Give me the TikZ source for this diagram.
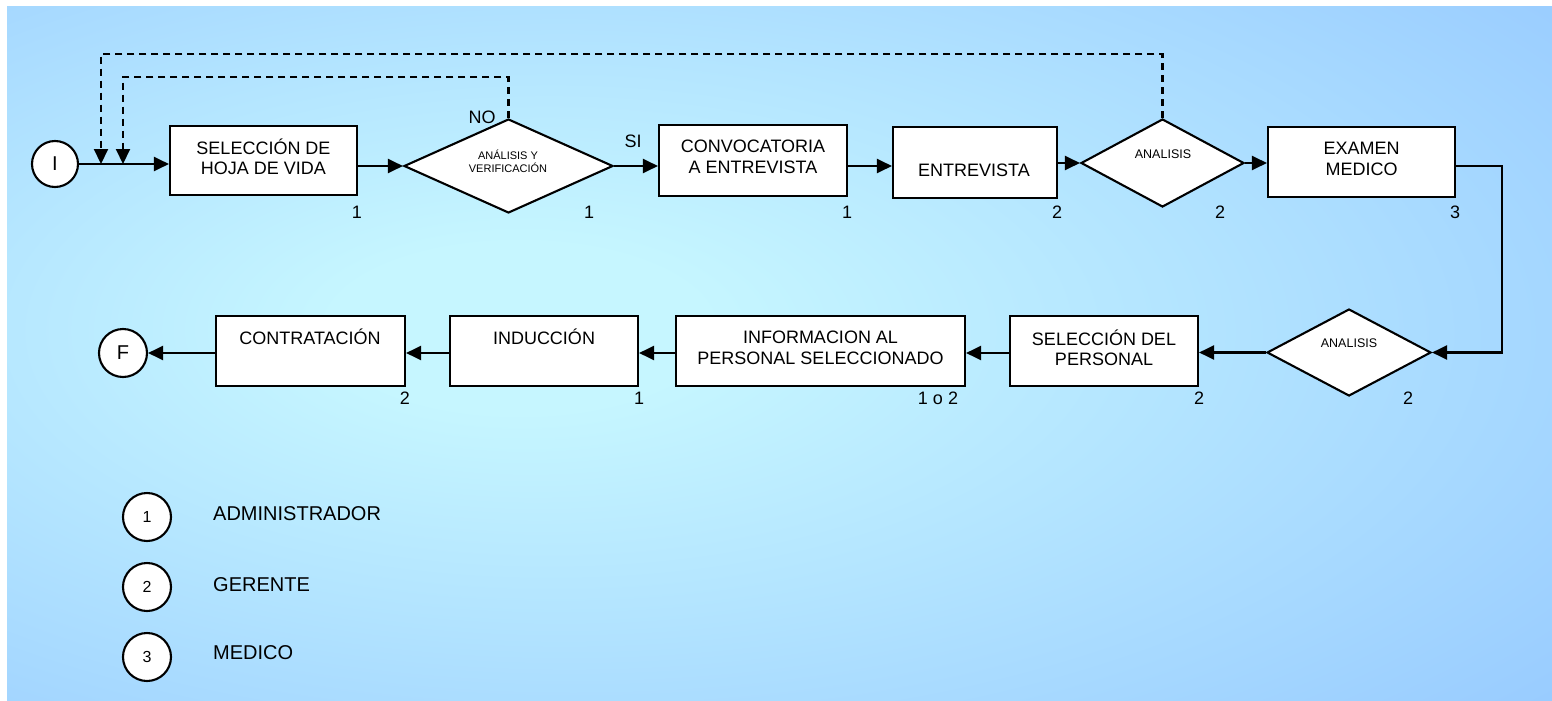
\documentclass[tikz,border=0pt]{standalone}
\usepackage{fontspec}
\setmainfont{Liberation Sans}
\usetikzlibrary{shapes.geometric,arrows.meta}
\definecolor{bgin}{RGB}{198,246,255}
\definecolor{bgout}{RGB}{153,204,255}
\pgfdeclareradialshading{bgglow}{\pgfpoint{-9bp}{2bp}}{%
  color(0bp)=(bgin); color(6bp)=(bgin); color(40bp)=(bgout); color(100bp)=(bgout)}
\begin{document}
\begin{tikzpicture}[x=1pt,y=-1pt,
  box/.style={draw=black, fill=white, line width=2.1pt, rectangle, inner sep=0pt},
  dia/.style={draw=black, fill=white, line width=2.1pt, diamond, inner sep=0pt},
  ring/.style={draw=black, fill=white, line width=2.1pt, circle, inner sep=0pt},
  txt/.style={align=center, inner sep=0pt, font=\fontsize{18}{20.5}\selectfont},
  dtxt/.style={align=center, inner sep=0pt, font=\fontsize{11}{13}\selectfont},
  atxt/.style={inner sep=0pt, font=\fontsize{12.5}{14}\selectfont},
  num/.style={inner sep=0pt, font=\fontsize{18}{20}\selectfont},
  keytxt/.style={anchor=west, inner sep=0pt, font=\fontsize{20}{24}\selectfont},
  flow/.style={line width=2.1pt, -{Triangle[length=15pt,width=14pt]}},
  back/.style={flow, dash pattern=on 7pt off 5pt}]

% canvas and background glow
\useasboundingbox (0,0) rectangle (1552,701);
\fill[white] (0,0) rectangle (1552,701);
\shade[shading=bgglow] (7,7) rectangle (1552,701);

% helper points for the return lines and the right-hand turn
\coordinate (rowA) at (0,166);
\coordinate (rowB) at (0,353);
\coordinate (fbA) at (101,164);
\coordinate (fbB) at (123,164);
\coordinate (topA) at (0,54);
\coordinate (topB) at (0,77);
\coordinate (rt) at (1502,352.5);

% upper row
\node[ring, minimum size=46pt, font=\fontsize{20}{20}\selectfont] (nI) at (55,164) {I};
\node[box, minimum width=187pt, minimum height=69pt] (b1) at (263.5,160.5) {};
\node[dia, minimum width=209pt, minimum height=94pt] (d1) at (508.5,166) {};
\node[box, minimum width=188pt, minimum height=71pt] (b2) at (753,160.5) {};
\node[box, minimum width=164pt, minimum height=71pt] (b3) at (975,162.5) {};
\node[dia, minimum width=163pt, minimum height=88pt] (d2) at (1162.5,163) {};
\node[box, minimum width=187pt, minimum height=70pt] (b4) at (1361.5,162) {};

% lower row
\node[dia, minimum width=164pt, minimum height=87pt] (d3) at (1349,352.5) {};
\node[box, minimum width=188pt, minimum height=70pt] (b5) at (1104,351) {};
\node[box, minimum width=289pt, minimum height=70pt] (b6) at (820.5,351) {};
\node[box, minimum width=188pt, minimum height=70pt] (b7) at (544,351) {};
\node[box, minimum width=189pt, minimum height=70pt] (b8) at (310.5,351) {};
\node[ring, minimum size=48pt, font=\fontsize{20}{20}\selectfont] (nF) at (123,353) {F};

% texts inside the shapes
\node[txt] (t1) at (263.5,157) {SELECCIÓN DE\\HOJA DE VIDA};
\node[dtxt] (t2) at (508,161) {ANÁLISIS Y\\VERIFICACIÓN};
\node[txt] (t3) at (753,157) {CONVOCATORIA\\A ENTREVISTA};
\node[txt] (t4) at (974,170) {ENTREVISTA};
\node[atxt] (t5) at (1163,154) {ANALISIS};
\node[txt] (t6) at (1361.5,159) {EXAMEN\\MEDICO};
\node[atxt] (t7) at (1349,343) {ANALISIS};
\node[txt] (t8) at (1104,348) {SELECCIÓN DEL\\PERSONAL};
\node[txt] (t9) at (820.5,348) {INFORMACION AL\\PERSONAL SELECCIONADO};
\node[txt] (t10) at (544,337) {INDUCCIÓN};
\node[txt] (t11) at (310,337) {CONTRATACIÓN};

% decision labels
\node[num] (no) at (482,117) {NO};
\node[num] (si) at (633,141) {SI};

% responsible numbers
\node[num] (r1) at (357,212) {1};
\node[num] (r2) at (589,212) {1};
\node[num] (r3) at (847,212) {1};
\node[num] (r4) at (1057,212) {2};
\node[num] (r5) at (1220,212) {2};
\node[num] (r6) at (1455,212) {3};
\node[num] (r7) at (1408,398) {2};
\node[num] (r8) at (1199,398) {2};
\node[num] (r9) at (938,398) {1 o 2};
\node[num] (r10) at (639,398) {1};
\node[num] (r11) at (405,398) {2};

% flow connectors, upper row
\draw[flow] (nI.east) -- (b1.west |- nI.east);
\draw[flow] (b1.east |- d1.west) -- (d1.west);
\draw[flow] (d1.east) -- (b2.west |- d1.east);
\draw[flow] (b2.east |- rowA) -- (b3.west |- rowA);
\draw[flow] (b3.east |- d2.west) -- (d2.west);
\draw[flow] (d2.east) -- (b4.west |- d2.east);
\draw[flow] (b4.east |- rowA) -| (rt) -- (d3.east);

% flow connectors, lower row
\draw[flow] (d3.west) -- (b5.east |- d3.west);
\draw[flow] (b5.west |- rowB) -- (b6.east |- rowB);
\draw[flow] (b6.west |- rowB) -- (b7.east |- rowB);
\draw[flow] (b7.west |- rowB) -- (b8.east |- rowB);
\draw[flow] (b8.west |- nF.east) -- (nF.east);

% rejection loops back to the start
\draw[back] (d2.north) |- (fbA |- topA) -- (fbA);
\draw[back] (d1.north) |- (fbB |- topB) -- (fbB);

% key of responsibles
\node[ring, minimum size=48pt, font=\fontsize{16}{16}\selectfont] (k1) at (147,517) {1};
\node[ring, minimum size=48pt, font=\fontsize{16}{16}\selectfont] (k2) at (147,587) {2};
\node[ring, minimum size=48pt, font=\fontsize{16}{16}\selectfont] (k3) at (147,657) {3};
\node[keytxt] (k1t) at (213,514) {ADMINISTRADOR};
\node[keytxt] (k2t) at (213,585) {GERENTE};
\node[keytxt] (k3t) at (213,653) {MEDICO};
\end{tikzpicture}
\end{document}
